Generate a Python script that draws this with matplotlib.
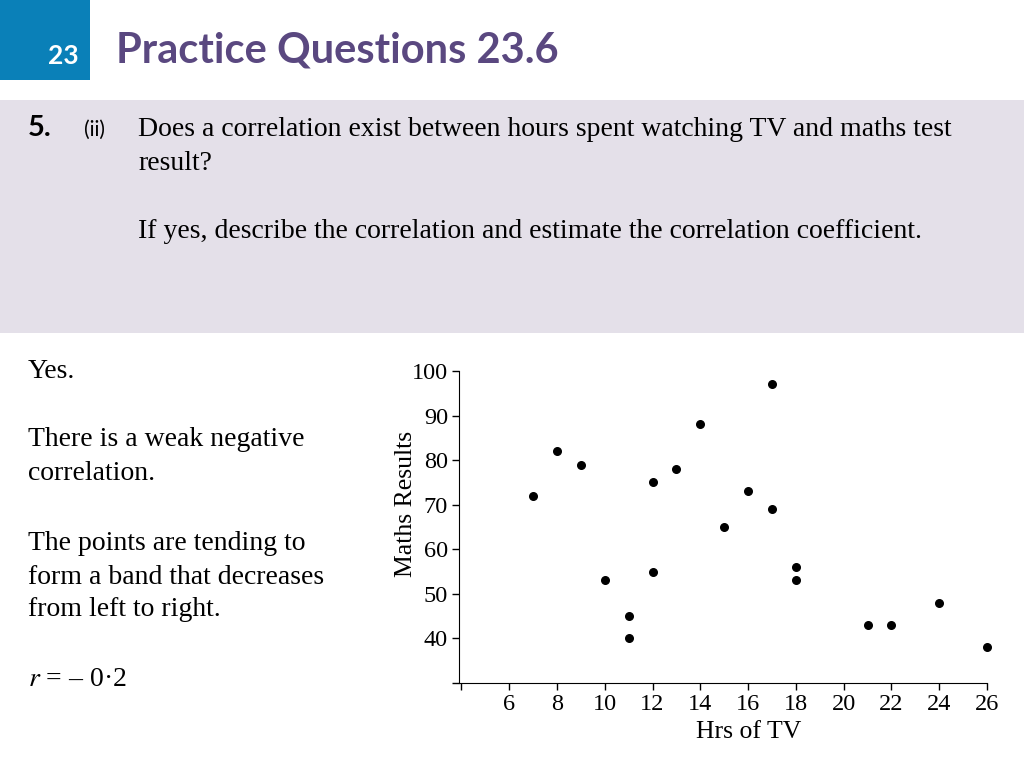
import matplotlib.pyplot as plt
from matplotlib.patches import Rectangle

plt.rcParams["mathtext.fontset"] = "stix"

# data
hrs_tv = [7, 8, 9, 10, 11, 11, 12, 12, 13, 14, 15, 16, 17, 17, 18, 18, 21, 22, 24, 26]
maths = [72, 82, 79, 53, 45, 40, 75, 55, 78, 88, 65, 73, 97, 69, 56, 53, 43, 43, 48, 38]
x_ticks = [4, 6, 8, 10, 12, 14, 16, 18, 20, 22, 24, 26]
x_labels = [""] + [str(t) for t in x_ticks[1:]]
y_ticks = [30, 40, 50, 60, 70, 80, 90, 100]
y_labels = [""] + [str(t) for t in y_ticks[1:]]

W, H = 1024, 768
fig = plt.figure(figsize=(W / 100, H / 100), dpi=100)
fig.patch.set_facecolor("white")

def px(x, y):
    return x / W, 1 - y / H

# header
fig.patches.append(Rectangle((0, 1 - 80 / H), 90 / W, 80 / H, transform=fig.transFigure,
                             facecolor="#0a80b8", edgecolor="none"))
fig.text(*px(63, 56), "23", color="white", fontsize=19, fontweight="bold",
         family="Lato", ha="center", va="center")
fig.text(*px(116, 50), "Practice Questions 23.6", color="#5a4880", fontsize=30,
         fontweight="bold", family="Lato", ha="left", va="center")

# question band
fig.patches.append(Rectangle((0, 1 - 333 / H), 1, 233 / H, transform=fig.transFigure,
                             facecolor="#e4e0e9", edgecolor="none"))
fig.text(*px(28, 128), "5.", fontsize=21, fontweight="bold", family="Lato", va="center")
fig.text(*px(84, 130), "(ii)", fontsize=15, family="Lato", va="center")
serif = "Liberation Serif"
fs = 20
fig.text(*px(138, 130), "Does a correlation exist between hours spent watching TV and maths test",
         fontsize=fs, family=serif, va="center")
fig.text(*px(138, 164), "result?", fontsize=fs, family=serif, va="center")
fig.text(*px(138, 232), "If yes, describe the correlation and estimate the correlation coefficient.",
         fontsize=fs, family=serif, va="center")

# answer text
answer = [(372, "Yes."), (440, "There is a weak negative"), (474, "correlation."),
          (543, "The points are tending to"), (577, "form a band that decreases"),
          (610, "from left to right.")]
for y, s in answer:
    fig.text(*px(28, y), s, fontsize=fs, family=serif, va="center")
fig.text(*px(28, 680), r"$r$ = – 0·2", fontsize=fs, family=serif, va="center")

# scatter chart
ax = fig.add_axes([459 / W, 1 - 683 / H, (987 - 459) / W, (683 - 371) / H])
ax.scatter(hrs_tv, maths, s=30, color="black", zorder=3, clip_on=False)
ax.set_xlim(3.9, 26)
ax.set_ylim(30, 100)
ax.set_xticks(x_ticks)
ax.set_xticklabels(x_labels)
ax.set_yticks(y_ticks)
ax.set_yticklabels(y_labels)
ax.spines["top"].set_visible(False)
ax.spines["right"].set_visible(False)
ax.tick_params(direction="out", length=5, width=1, labelsize=17.5, pad=3)
for lab in ax.get_xticklabels() + ax.get_yticklabels():
    lab.set_family(serif)
ax.set_xlabel("Hrs of TV", fontsize=18.5, family=serif, labelpad=4.5)
ax.set_ylabel("Maths Results", fontsize=18.5, family=serif, labelpad=-4)
ax.xaxis.label.set_x(0.549)
ax.yaxis.label.set_y(0.574)
ax.patch.set_alpha(0)

fig.savefig("out.png", dpi=100)
